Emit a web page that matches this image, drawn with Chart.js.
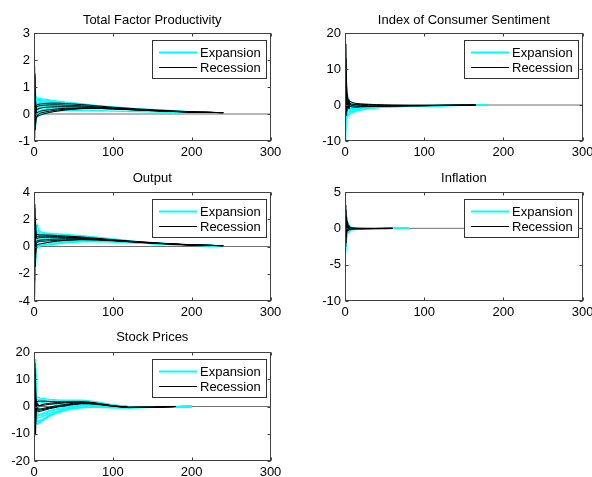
<!DOCTYPE html>
<html>
<head>
<meta charset="utf-8">
<script src="https://cdn.jsdelivr.net/npm/chart.js@4/dist/chart.umd.min.js"></script>
<style>
html,body{margin:0;padding:0;background:#fff;overflow:hidden;width:592px;height:477px;position:relative;}
canvas{position:absolute;}
</style>
</head>
<body>
<canvas id="p1" width="300" height="160" style="left:0;top:0"></canvas>
<canvas id="p2" width="300" height="160" style="left:300px;top:0"></canvas>
<canvas id="p3" width="300" height="160" style="left:0;top:160px"></canvas>
<canvas id="p4" width="300" height="160" style="left:300px;top:160px"></canvas>
<canvas id="p5" width="300" height="157" style="left:0;top:320px"></canvas>
<script>
// ---------------- data ----------------
const LEGEND_LABELS = ['Expansion', 'Recession'];
const X_TICKS = [0, 100, 200, 300];
const ZERO_X = [0, 300];
const ZERO_Y = [0, 0];

// Total Factor Productivity
const TFP_TITLE = 'Total Factor Productivity';
const TFP_Y_TICKS = [-1, 0, 1, 2, 3];
const TFP_X = [0,1,2,3,4,5,6,8,10,15,20,30,40,60,80,100,130,160,200,240];
const TFP_EXP_1 = [0.2,1.8,0.7,0.6,0.58,0.58,0.59,0.58,0.56,0.54,0.52,0.48,0.44,0.38,0.31,0.26,0.2,0.15,0.08,0.04];
const TFP_EXP_2 = [0.5,1.3,0.1,0.45,0.5,0.5,0.5,0.5,0.49,0.48,0.46,0.43,0.4,0.34,0.29,0.24,0.18,0.14,0.08,0.04];
const TFP_EXP_3 = [-0.2,0.9,-0.5,0.3,0.35,0.38,0.4,0.42,0.42,0.42,0.41,0.39,0.36,0.31,0.27,0.22,0.17,0.13,0.07,0.04];
const TFP_EXP_4 = [0.3,0.6,0.4,0.2,0.25,0.28,0.3,0.32,0.33,0.34,0.34,0.33,0.32,0.29,0.25,0.21,0.16,0.12,0.07,0.04];
const TFP_EXP_5 = [0,1.1,0.2,0.1,0.12,0.15,0.17,0.2,0.22,0.25,0.26,0.27,0.27,0.26,0.23,0.2,0.15,0.11,0.07,0.04];
const TFP_EXP_6 = [-0.4,0.4,-0.3,-0.05,0,0.03,0.05,0.08,0.1,0.14,0.17,0.2,0.22,0.23,0.22,0.19,0.15,0.11,0.06,0.04];
const TFP_EXP_7 = [0.1,-0.5,0.3,-0.1,-0.1,-0.08,-0.06,-0.03,0,0.04,0.08,0.13,0.17,0.2,0.2,0.18,0.14,0.1,0.06,0.03];
const TFP_EXP_8 = [0.6,1.5,0.5,0.4,0.4,0.42,0.44,0.46,0.46,0.45,0.44,0.41,0.38,0.32,0.27,0.23,0.17,0.13,0.07,0.04];
const TFP_EXP_9 = [-0.1,0.2,0,-0.05,-0.02,0,0.02,0.04,0.05,0.07,0.09,0.11,0.13,0.14,0.13,0.11,0.09,0.07,0.05,0.03];
const TFP_EXP_10 = [0.4,1.0,0.6,0.5,0.52,0.54,0.55,0.54,0.53,0.51,0.49,0.45,0.42,0.36,0.3,0.25,0.19,0.14,0.08,0.04];
const TFP_EXP_11 = [-0.3,0.7,-0.2,0.15,0.2,0.22,0.24,0.26,0.28,0.3,0.31,0.31,0.3,0.28,0.24,0.21,0.16,0.12,0.07,0.04];
const TFP_EXP_12 = [0.2,-0.3,0.1,0,0.04,0.07,0.09,0.12,0.15,0.19,0.21,0.24,0.25,0.25,0.23,0.2,0.15,0.11,0.07,0.04];
const TFP_EXP_13 = [0.9,0.3,0.25,0.35,0.36,0.37,0.38,0.38,0.38,0.38,0.37,0.36,0.34,0.3,0.26,0.22,0.16,0.12,0.07,0.04];
const TFP_REC_1 = [1.5,0.9,0.3,0.33,0.34,0.35,0.36,0.37,0.38,0.39,0.4,0.4,0.39,0.35,0.3,0.25,0.19,0.14,0.08,0.05];
const TFP_REC_2 = [-0.9,0.3,-0.4,-0.15,-0.1,-0.08,-0.06,-0.04,-0.02,0.02,0.06,0.11,0.15,0.2,0.21,0.2,0.16,0.12,0.07,0.05];
const TFP_REC_3 = [0.8,-0.6,0.2,0.05,0.06,0.07,0.08,0.1,0.12,0.14,0.16,0.19,0.21,0.22,0.21,0.19,0.15,0.11,0.07,0.05];
const TFP_REC_4 = [0.2,1.4,-0.2,0.28,0.28,0.29,0.3,0.31,0.32,0.33,0.34,0.34,0.33,0.3,0.26,0.22,0.17,0.12,0.07,0.05];
const TFP_REC_5 = [-0.6,0.6,-0.1,-0.1,-0.06,-0.03,0,0.03,0.05,0.08,0.11,0.15,0.18,0.21,0.21,0.19,0.15,0.11,0.07,0.05];
const TFP_REC_6 = [1.0,0.1,0.5,0.15,0.17,0.19,0.2,0.22,0.23,0.25,0.26,0.27,0.27,0.26,0.24,0.21,0.16,0.12,0.07,0.05];

// Index of Consumer Sentiment
const ICS_TITLE = 'Index of Consumer Sentiment';
const ICS_Y_TICKS = [-10, 0, 10, 20];
const ICS_X_EXP = [0,1,2,3,4,5,6,8,10,15,20,30,40,50,60,80,100,130,160,180];
const ICS_X_REC = [0,1,2,3,4,5,6,8,10,15,20,30,40,50,60,80,100,130,150,165];
const ICS_EXP_1 = [2,12.5,6,3,1,0,-1,-1.5,-1.8,-1.5,-1.2,-0.9,-0.7,-0.6,-0.5,-0.35,-0.25,-0.15,-0.05,0];
const ICS_EXP_2 = [-10,4,-3,-2,-2.5,-2.8,-2.5,-2.2,-2,-1.7,-1.4,-1,-0.8,-0.6,-0.5,-0.35,-0.25,-0.15,-0.05,0];
const ICS_EXP_3 = [5,8,2,1.5,1,0.8,0.5,0.2,0,-0.3,-0.4,-0.5,-0.5,-0.45,-0.4,-0.3,-0.22,-0.12,-0.04,0];
const ICS_EXP_4 = [-4,10,1,-1,0,-0.5,-0.8,-1,-1.2,-1.1,-0.9,-0.7,-0.55,-0.45,-0.38,-0.28,-0.2,-0.12,-0.04,0];
const ICS_EXP_5 = [0,-6,3,0.5,-0.5,-1,-1.3,-1.5,-1.5,-1.3,-1.1,-0.8,-0.6,-0.5,-0.4,-0.3,-0.22,-0.12,-0.04,0];
const ICS_EXP_6 = [7,5,2.5,2,1.5,1.2,1,0.8,0.6,0.3,0.1,-0.1,-0.2,-0.25,-0.25,-0.2,-0.15,-0.1,-0.03,0];
const ICS_EXP_7 = [-2,3,-1,-3,-2,-2,-1.8,-1.6,-1.4,-1.2,-1,-0.8,-0.6,-0.5,-0.4,-0.3,-0.2,-0.12,-0.04,0];
const ICS_EXP_8 = [1,11,4,1,0.5,0.2,0,-0.3,-0.5,-0.6,-0.6,-0.5,-0.45,-0.4,-0.35,-0.27,-0.2,-0.11,-0.03,0];
const ICS_EXP_9 = [-7,8,0,-2,-1,-1.5,-2,-1.9,-1.7,-1.4,-1.2,-0.9,-0.7,-0.55,-0.45,-0.32,-0.22,-0.13,-0.04,0];
const ICS_EXP_10 = [3,-3,6,1,0,-0.5,-0.6,-0.8,-0.9,-0.9,-0.8,-0.6,-0.5,-0.4,-0.33,-0.25,-0.18,-0.1,-0.03,0];
const ICS_EXP_11 = [-5,12,-1,2,0,0.3,0.4,0,-0.3,-0.5,-0.5,-0.45,-0.4,-0.35,-0.3,-0.23,-0.17,-0.1,-0.03,0];
const ICS_REC_1 = [3,17,4,2,1.5,1,0.5,0.3,0.2,0,-0.1,-0.2,-0.25,-0.25,-0.25,-0.22,-0.18,-0.1,-0.05,-0.02];
const ICS_REC_2 = [-3,6,-2,-1,0.5,0,-0.3,-0.5,-0.6,-0.6,-0.5,-0.45,-0.4,-0.35,-0.3,-0.25,-0.2,-0.1,-0.05,-0.02];
const ICS_REC_3 = [0,9,3,0,-0.5,0.5,1,0.8,0.6,0.4,0.3,0.2,0.1,0,-0.05,-0.1,-0.1,-0.06,-0.03,-0.02];
const ICS_REC_4 = [2,-3,5,2,0,-1,-0.5,-0.2,0,0.2,0.2,0.1,0,-0.05,-0.1,-0.12,-0.12,-0.07,-0.04,-0.02];
const ICS_REC_5 = [-1,13,0,3,1,0.5,0.2,0,-0.2,-0.35,-0.4,-0.4,-0.35,-0.3,-0.28,-0.22,-0.17,-0.09,-0.04,-0.02];

// Output
const OUT_TITLE = 'Output';
const OUT_Y_TICKS = [-4, -2, 0, 2, 4];
const OUT_X = [0,1,2,3,4,5,6,8,10,15,20,30,40,60,80,100,130,160,200,240];
const OUT_EXP_1 = [0.5,2.0,1.0,1.5,1.6,1.4,1.2,1.1,1.05,1.0,0.97,0.92,0.88,0.8,0.68,0.55,0.38,0.25,0.12,0.06];
const OUT_EXP_2 = [-3.8,0.5,-1.0,0.8,1.0,1.0,0.95,0.92,0.9,0.88,0.86,0.82,0.78,0.7,0.6,0.5,0.35,0.23,0.11,0.05];
const OUT_EXP_3 = [1.5,-2.0,0.3,0.5,0.6,0.65,0.68,0.7,0.72,0.73,0.73,0.72,0.7,0.64,0.56,0.46,0.33,0.22,0.11,0.05];
const OUT_EXP_4 = [-1.0,1.2,-0.5,0.2,0.3,0.35,0.4,0.45,0.48,0.52,0.55,0.58,0.6,0.58,0.52,0.44,0.32,0.21,0.1,0.05];
const OUT_EXP_5 = [0.8,-3.0,0.8,0,0.05,0.1,0.12,0.15,0.18,0.25,0.3,0.38,0.43,0.48,0.46,0.4,0.29,0.2,0.1,0.05];
const OUT_EXP_6 = [-2.0,1.8,0.2,-0.2,-0.1,0,0.03,0.05,0.08,0.12,0.17,0.25,0.31,0.37,0.38,0.35,0.27,0.18,0.09,0.05];
const OUT_EXP_7 = [0.2,-1.0,1.4,1.2,1.1,1.0,0.95,0.9,0.85,0.82,0.8,0.76,0.72,0.65,0.57,0.48,0.34,0.22,0.11,0.05];
const OUT_EXP_8 = [1.0,0,-1.5,0.4,0.45,0.5,0.52,0.55,0.56,0.58,0.6,0.62,0.62,0.6,0.54,0.45,0.32,0.21,0.1,0.05];
const OUT_EXP_9 = [-0.5,0.8,0,0.1,0.05,0.05,0.06,0.08,0.1,0.15,0.2,0.28,0.35,0.42,0.42,0.38,0.28,0.19,0.09,0.05];
const OUT_EXP_10 = [-2.8,1.5,-0.3,1.1,1.2,1.15,1.1,1.0,0.98,0.94,0.9,0.86,0.82,0.74,0.63,0.52,0.36,0.24,0.11,0.05];
const OUT_EXP_11 = [0.3,-1.5,0.6,0.3,0.35,0.4,0.42,0.45,0.47,0.5,0.5,0.5,0.5,0.5,0.46,0.4,0.3,0.2,0.1,0.05];
const OUT_EXP_12 = [1.8,-3.5,-0.3,0.7,0.8,0.82,0.83,0.82,0.8,0.78,0.76,0.73,0.7,0.63,0.55,0.46,0.33,0.22,0.1,0.05];
const OUT_EXP_13 = [-1.2,0.3,0.9,-0.1,0,0.02,0.04,0.06,0.08,0.1,0.13,0.2,0.27,0.34,0.36,0.34,0.26,0.18,0.09,0.05];
const OUT_REC_1 = [3.1,1.0,0.5,0.9,0.88,0.87,0.86,0.85,0.85,0.84,0.83,0.8,0.77,0.7,0.6,0.5,0.36,0.24,0.12,0.06];
const OUT_REC_2 = [-2.5,2.2,-0.5,0.3,0.32,0.33,0.35,0.37,0.38,0.4,0.42,0.45,0.48,0.52,0.5,0.44,0.33,0.22,0.11,0.06];
const OUT_REC_3 = [2.0,-1.5,1.0,0.6,0.6,0.62,0.63,0.65,0.66,0.67,0.68,0.68,0.67,0.62,0.55,0.46,0.34,0.23,0.11,0.06];
const OUT_REC_4 = [0.5,2.8,-0.8,0.1,0.12,0.15,0.17,0.2,0.22,0.27,0.32,0.4,0.45,0.5,0.48,0.42,0.31,0.21,0.1,0.06];
const OUT_REC_5 = [-1.5,0.5,1.8,0.7,0.72,0.74,0.75,0.76,0.76,0.76,0.75,0.73,0.7,0.63,0.55,0.46,0.34,0.23,0.11,0.06];
const OUT_REC_6 = [1.2,-0.8,0.3,0.4,0.42,0.44,0.45,0.47,0.48,0.5,0.52,0.55,0.57,0.57,0.52,0.44,0.32,0.22,0.11,0.06];

// Inflation
const INF_TITLE = 'Inflation';
const INF_Y_TICKS = [-10, -5, 0, 5];
const INF_X_EXP = [0,1,2,3,4,5,6,8,10,15,20,30,40,50,60,80];
const INF_X_REC = [0,1,2,3,4,5,6,8,10,15,20,30,40,50,60];
const INF_EXP_1 = [2.5,-1.0,1.0,0.5,0.3,0.2,0.1,0.05,0,-0.05,-0.05,-0.05,-0.03,-0.02,-0.01,0];
const INF_EXP_2 = [-3.3,1.5,-0.5,0.2,-0.3,-0.2,-0.2,-0.15,-0.1,-0.08,-0.06,-0.04,-0.03,-0.02,-0.01,0];
const INF_EXP_3 = [1.0,2.0,-1.0,-0.5,0.5,0.3,0.2,0.1,0.1,0.05,0.03,0.01,0,0,0,0];
const INF_EXP_4 = [-1.5,-2.5,0.5,0.8,0.2,-0.1,-0.3,-0.25,-0.2,-0.12,-0.08,-0.05,-0.03,-0.02,-0.01,0];
const INF_EXP_5 = [0.5,0.8,1.2,-0.8,-0.5,0.4,0.3,0.15,0.05,0,-0.02,-0.03,-0.02,-0.01,0,0];
const INF_EXP_6 = [-2.0,0.3,-1.5,0.4,0.6,0,-0.1,-0.1,-0.08,-0.06,-0.05,-0.04,-0.03,-0.02,-0.01,0];
const INF_EXP_7 = [1.8,-0.5,0.2,0.3,-0.2,-0.4,-0.2,0,0.05,0.03,0,-0.02,-0.02,-0.01,0,0];
const INF_EXP_8 = [-0.5,-1.8,0.8,-0.3,0.1,0.2,0.15,0.05,-0.05,-0.1,-0.08,-0.05,-0.03,-0.02,-0.01,0];
const INF_EXP_9 = [-2.8,0.8,0.6,-0.6,0.3,-0.3,0.1,-0.05,-0.1,-0.08,-0.06,-0.04,-0.03,-0.02,-0.01,0];
const INF_EXP_10 = [2.0,-1.5,-0.3,1.0,0.3,0.1,-0.1,0.05,0.05,0.02,0,-0.01,-0.01,0,0,0];
const INF_REC_1 = [3.2,0.5,-0.5,0.6,0.2,0,-0.1,-0.1,-0.08,-0.06,-0.05,-0.03,-0.02,-0.01,0];
const INF_REC_2 = [-2.5,1.8,0.3,-0.4,0.3,0.2,0.1,0.05,0,-0.03,-0.04,-0.04,-0.03,-0.02,-0.01];
const INF_REC_3 = [1.2,-1.2,1.5,0.2,-0.3,-0.2,0,0.1,0.05,0.02,0,-0.02,-0.02,-0.01,0];
const INF_REC_4 = [-1.0,2.5,-0.8,-0.2,0,0.3,0.2,0.05,-0.02,-0.05,-0.06,-0.05,-0.03,-0.02,-0.01];
const INF_REC_5 = [0.5,-2.0,0,1.0,0.4,-0.1,-0.2,-0.15,-0.1,-0.07,-0.05,-0.03,-0.02,-0.01,0];

// Stock Prices
const STK_TITLE = 'Stock Prices';
const STK_Y_TICKS = [-20, -10, 0, 10, 20];
const STK_X_EXP = [0,1,2,3,4,5,6,8,10,15,20,30,40,50,60,70,80,100,120,150,200];
const STK_X_REC = [0,1,2,3,4,5,6,8,10,15,20,30,40,50,60,70,80,100,120,150,180];
const STK_EXP_1 = [5,10,17.5,4,3.5,3.4,3.3,3.1,3.0,2.8,2.6,2.4,2.3,2.3,2.3,2.1,1.7,0.6,0,-0.1,0];
const STK_EXP_2 = [-3,-8,2,-6,-6.5,-6.2,-6,-5.8,-5.5,-4.5,-3.5,-2.3,-1.4,-0.9,-0.5,-0.3,-0.3,-0.5,-0.5,-0.3,0];
const STK_EXP_3 = [2,12,-4,1,1.5,1.6,1.7,1.8,1.9,2.0,2.0,2.0,2.0,2.0,1.9,1.7,1.3,0.4,-0.1,-0.15,0];
const STK_EXP_4 = [-1,4,8,-3,-4,-4.2,-4.1,-4.0,-3.8,-3.2,-2.6,-1.7,-1.0,-0.6,-0.3,-0.2,-0.2,-0.4,-0.4,-0.25,0];
const STK_EXP_5 = [8,-5,5,2,0.5,0,-0.5,-0.7,-0.8,-0.6,-0.3,0.2,0.6,1.0,1.2,1.2,1.0,0.3,-0.2,-0.2,0];
const STK_EXP_6 = [0,15,1,-2,-2.5,-2.8,-3,-2.8,-2.6,-2.0,-1.5,-0.8,-0.2,0.3,0.6,0.8,0.7,0.1,-0.3,-0.2,0];
const STK_EXP_7 = [-6,3,-2,0,-1,-1.2,-1.3,-1.2,-1.0,-0.6,-0.2,0.5,1.0,1.4,1.6,1.5,1.2,0.3,-0.2,-0.2,0];
const STK_EXP_8 = [3,6,12,-1,-5,-5.2,-5.1,-5.0,-4.8,-4.0,-3.0,-1.8,-0.9,-0.3,0,0.2,0.2,-0.2,-0.4,-0.25,0];
const STK_EXP_9 = [-2,9,0,3,2.5,2.2,2.0,1.7,1.5,1.2,1.0,1.0,1.2,1.5,1.7,1.7,1.4,0.5,-0.1,-0.15,0];
const STK_EXP_10 = [1,16,-1,-4,-5.5,-5.8,-5.6,-5.3,-5.0,-4.2,-3.2,-2.0,-1.1,-0.5,-0.2,0,0,-0.3,-0.45,-0.28,0];
const STK_EXP_11 = [4,-6,10,1,0,-0.5,-0.8,-1.0,-1.2,-1.0,-0.6,0,0.5,0.9,1.1,1.1,0.9,0.2,-0.3,-0.2,0];
const STK_EXP_12 = [-5,11,3,-1,-3,-3.3,-3.4,-3.2,-3.0,-2.5,-1.9,-1.1,-0.5,0,0.3,0.4,0.4,-0.1,-0.35,-0.2,0];
const STK_EXP_13 = [6,2,14,2.5,2.8,2.8,2.7,2.5,2.4,2.2,2.0,1.8,1.8,1.9,2.0,1.9,1.5,0.5,-0.05,-0.12,0];
const STK_REC_1 = [16,-3,-10.5,2,1,0.5,0.3,0.5,0.7,1.0,1.2,1.5,1.7,1.8,1.8,1.6,1.2,0.3,-0.3,-0.3,0];
const STK_REC_2 = [-4,14,5,-2,-1.5,-1.8,-2.0,-1.8,-1.6,-1.2,-0.8,-0.2,0.3,0.7,1.0,1.0,0.8,0.1,-0.35,-0.25,0];
const STK_REC_3 = [10,-10,3,1.5,1.8,1.9,2.0,2.0,2.0,1.9,1.8,1.7,1.6,1.6,1.5,1.3,1.0,0.2,-0.3,-0.25,0];
const STK_REC_4 = [-8,6,-6,0,-0.5,-0.8,-1.0,-0.9,-0.8,-0.5,-0.2,0.3,0.8,1.2,1.4,1.4,1.1,0.2,-0.35,-0.25,0];
const STK_REC_5 = [3,12,-2,0.5,0.3,0.2,0.2,0.3,0.4,0.6,0.8,1.1,1.4,1.6,1.7,1.5,1.1,0.2,-0.3,-0.25,0];
const STK_REC_6 = [-2,-7,8,-1,-1.2,-1.3,-1.4,-1.3,-1.2,-0.9,-0.5,0,0.5,0.9,1.1,1.1,0.9,0.1,-0.4,-0.3,0];

// ---------------- styling / plugins ----------------
const FONT = '"Liberation Sans", Arial, Helvetica, sans-serif';
Chart.defaults.font.family = FONT;
Chart.defaults.font.size = 13;
Chart.defaults.color = '#000';

const EXP_COLOR = '#00ffff';
const REC_COLOR = '#000000';
const AXIS_COLOR = '#404040';

const boxAxes = {
  id: 'boxAxes',
  afterDraw(chart) {
    const {ctx, chartArea: a, scales} = chart;
    const xs = scales.x, ys = scales.y;
    const l = Math.round(a.left) + 0.5, r = Math.round(a.right) - 0.5;
    const t = Math.round(a.top) + 0.5, b = Math.round(a.bottom) - 0.5;
    ctx.save();
    ctx.strokeStyle = AXIS_COLOR;
    ctx.lineWidth = 1;
    ctx.strokeRect(l, t, r - l, b - t);
    ctx.beginPath();
    xs.ticks.forEach(tk => {
      const px = Math.round(xs.getPixelForValue(tk.value)) + 0.5;
      ctx.moveTo(px, b); ctx.lineTo(px, b - 3);
      ctx.moveTo(px, t); ctx.lineTo(px, t + 3);
    });
    ys.ticks.forEach(tk => {
      const py = Math.round(ys.getPixelForValue(tk.value)) + 0.5;
      ctx.moveTo(l, py); ctx.lineTo(l + 3, py);
      ctx.moveTo(r, py); ctx.lineTo(r - 3, py);
    });
    ctx.stroke();
    ctx.restore();
  }
};

const boxLegend = {
  id: 'boxLegend',
  afterDraw(chart, args, opts) {
    const {ctx, chartArea: a} = chart;
    const w = 114, h = 38;
    const L0 = Math.round(a.right - 5 - w);
    const T0 = Math.round(a.top + 7);
    ctx.save();
    ctx.fillStyle = '#ffffff';
    ctx.fillRect(L0, T0, w, h);
    ctx.strokeStyle = '#333333';
    ctx.lineWidth = 1;
    ctx.strokeRect(L0 + 0.5, T0 + 0.5, w, h);
    ctx.font = '13px ' + FONT;
    ctx.textBaseline = 'middle';
    ctx.textAlign = 'left';
    opts.labels.forEach((txt, i) => {
      const y = T0 + 12 + i * 15;
      ctx.fillStyle = opts.colors[i];
      ctx.fillRect(L0 + 7, y - (i === 0 ? 0.5 : 0), 38, i === 0 ? 2 : 1);
      ctx.fillStyle = '#000';
      ctx.fillText(txt, L0 + 48, y + 1);
    });
    ctx.restore();
  }
};

function pts(xs, ys) { return xs.map((x, i) => ({x: x, y: ys[i]})); }

function lineDs(data, color, w) {
  return {data: data, borderColor: color, borderWidth: w, pointRadius: 0, fill: false, tension: 0};
}

function panel(id, p) {
  const ds = [];
  p.rec.forEach(ys => ds.push(lineDs(pts(p.xRec, ys), REC_COLOR, 1)));
  p.exp.forEach(ys => ds.push(lineDs(pts(p.xExp, ys), EXP_COLOR, 1.3)));
  ds.push(lineDs(pts(ZERO_X, ZERO_Y), '#707070', 1));
  const yt = p.yTicks;
  new Chart(document.getElementById(id), {
    type: 'line',
    data: {datasets: ds},
    options: {
      responsive: false, animation: false, devicePixelRatio: 1, events: [],
      layout: {padding: {left: 0, right: p.padR, top: 0, bottom: 0}},
      plugins: {
        legend: {display: false},
        tooltip: {enabled: false},
        title: {display: true, text: p.title, fullSize: false, color: '#000',
                font: {size: 13, weight: 'normal', family: FONT, lineHeight: 1.2},
                padding: {top: p.tTop, bottom: p.tBot}},
        boxLegend: {labels: LEGEND_LABELS, colors: [EXP_COLOR, REC_COLOR]}
      },
      scales: {
        x: {
          type: 'linear', min: 0, max: 300,
          grid: {display: false, drawTicks: false, tickLength: 0},
          border: {display: false},
          ticks: {padding: 4, maxRotation: 0, autoSkip: false, color: '#000', font: {size: 13}},
          afterBuildTicks: s => { s.ticks = X_TICKS.map(v => ({value: v})); },
          afterFit: s => { s.height = p.xH; }
        },
        y: {
          type: 'linear', min: yt[0], max: yt[yt.length - 1],
          grid: {display: false, drawTicks: false, tickLength: 0},
          border: {display: false},
          ticks: {padding: 4, autoSkip: false, color: '#000', font: {size: 13}},
          afterBuildTicks: s => { s.ticks = yt.map(v => ({value: v})); },
          afterFit: s => { s.width = p.yW; }
        }
      }
    },
    plugins: [boxAxes, boxLegend]
  });
}

panel('p1', {title: TFP_TITLE, yTicks: TFP_Y_TICKS, xExp: TFP_X, xRec: TFP_X,
  exp: [TFP_EXP_1, TFP_EXP_2, TFP_EXP_3, TFP_EXP_4, TFP_EXP_5, TFP_EXP_6, TFP_EXP_7, TFP_EXP_8, TFP_EXP_9, TFP_EXP_10, TFP_EXP_11, TFP_EXP_12, TFP_EXP_13],
  rec: [TFP_REC_1, TFP_REC_2, TFP_REC_3, TFP_REC_4, TFP_REC_5, TFP_REC_6],
  yW: 34, xH: 19, padR: 29.5, tTop: 12.2, tBot: 5.2});
panel('p2', {title: ICS_TITLE, yTicks: ICS_Y_TICKS, xExp: ICS_X_EXP, xRec: ICS_X_REC,
  exp: [ICS_EXP_1, ICS_EXP_2, ICS_EXP_3, ICS_EXP_4, ICS_EXP_5, ICS_EXP_6, ICS_EXP_7, ICS_EXP_8, ICS_EXP_9, ICS_EXP_10, ICS_EXP_11],
  rec: [ICS_REC_1, ICS_REC_2, ICS_REC_3, ICS_REC_4, ICS_REC_5],
  yW: 45, xH: 19, padR: 17.3, tTop: 12.2, tBot: 5.2});
panel('p3', {title: OUT_TITLE, yTicks: OUT_Y_TICKS, xExp: OUT_X, xRec: OUT_X,
  exp: [OUT_EXP_1, OUT_EXP_2, OUT_EXP_3, OUT_EXP_4, OUT_EXP_5, OUT_EXP_6, OUT_EXP_7, OUT_EXP_8, OUT_EXP_9, OUT_EXP_10, OUT_EXP_11, OUT_EXP_12, OUT_EXP_13],
  rec: [OUT_REC_1, OUT_REC_2, OUT_REC_3, OUT_REC_4, OUT_REC_5, OUT_REC_6],
  yW: 34, xH: 19, padR: 29.5, tTop: 10.5, tBot: 5.9});
panel('p4', {title: INF_TITLE, yTicks: INF_Y_TICKS, xExp: INF_X_EXP, xRec: INF_X_REC,
  exp: [INF_EXP_1, INF_EXP_2, INF_EXP_3, INF_EXP_4, INF_EXP_5, INF_EXP_6, INF_EXP_7, INF_EXP_8, INF_EXP_9, INF_EXP_10],
  rec: [INF_REC_1, INF_REC_2, INF_REC_3, INF_REC_4, INF_REC_5],
  yW: 45, xH: 19, padR: 17.3, tTop: 10.5, tBot: 5.9});
panel('p5', {title: STK_TITLE, yTicks: STK_Y_TICKS, xExp: STK_X_EXP, xRec: STK_X_REC,
  exp: [STK_EXP_1, STK_EXP_2, STK_EXP_3, STK_EXP_4, STK_EXP_5, STK_EXP_6, STK_EXP_7, STK_EXP_8, STK_EXP_9, STK_EXP_10, STK_EXP_11, STK_EXP_12, STK_EXP_13],
  rec: [STK_REC_1, STK_REC_2, STK_REC_3, STK_REC_4, STK_REC_5, STK_REC_6],
  yW: 34, xH: 16, padR: 29.5, tTop: 9.5, tBot: 6.9});
</script>
</body>
</html>
